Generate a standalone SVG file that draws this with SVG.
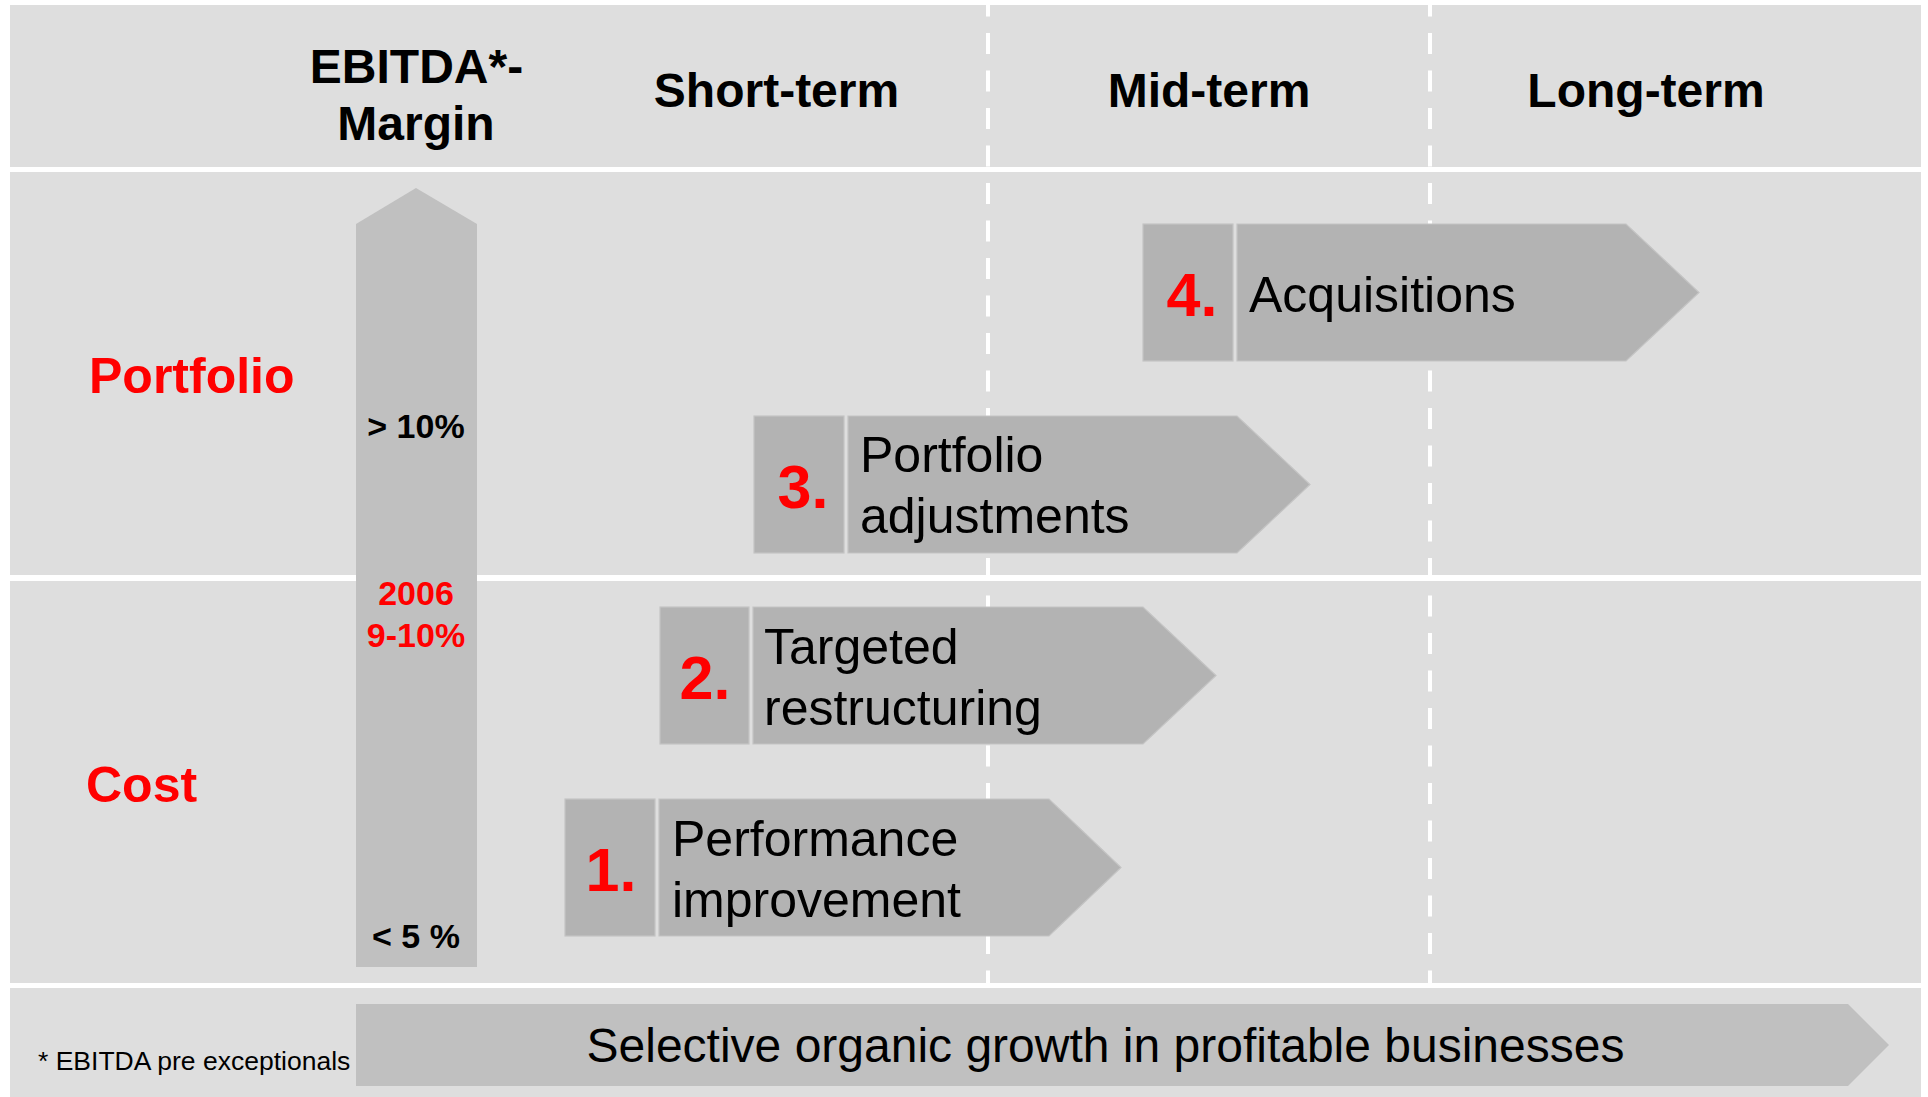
<svg xmlns="http://www.w3.org/2000/svg" width="1928" height="1097" viewBox="0 0 1928 1097">
<style>
.band{fill:#dedede}
.box{fill:#b3b3b3;stroke:#c4c4c4;stroke-width:1.2}
.bar{fill:#c0c0c0}
.dash{stroke:#ffffff;stroke-width:4;stroke-dasharray:21 16.5;fill:none}
.hdr{font-family:"Liberation Sans",Arial,sans-serif;font-weight:bold;font-size:48px;fill:#000;text-anchor:middle}
.row{font-family:"Liberation Sans",Arial,sans-serif;font-weight:bold;font-size:50px;fill:#ff0000}
.num{font-family:"Liberation Sans",Arial,sans-serif;font-weight:bold;font-size:61px;fill:#ff0000;text-anchor:middle}
.lbl{font-family:"Liberation Sans",Arial,sans-serif;font-size:50px;fill:#000}
.pct{font-family:"Liberation Sans",Arial,sans-serif;font-weight:bold;font-size:34px;text-anchor:middle}
</style>
<rect x="0" y="0" width="1928" height="1097" fill="#ffffff"/>
<g id="bands">
<rect class="band" x="10" y="5" width="1911" height="162"/>
<rect class="band" x="10" y="172" width="1911" height="403"/>
<rect class="band" x="10" y="581" width="1911" height="402"/>
<rect class="band" x="10" y="988" width="1911" height="109"/>
</g>
<g id="grid">
<line class="dash" x1="988" y1="-4.5" x2="988" y2="983"/>
<line class="dash" x1="1430" y1="-4.5" x2="1430" y2="983"/>
</g>
<g id="headers">
<text class="hdr" x="416.5" y="83">EBITDA*-</text>
<text class="hdr" x="416" y="140">Margin</text>
<text class="hdr" x="776.5" y="107">Short-term</text>
<text class="hdr" x="1209" y="107">Mid-term</text>
<text class="hdr" x="1646" y="107">Long-term</text>
</g>
<g id="row-labels">
<text class="row" x="89" y="393">Portfolio</text>
<text class="row" x="86" y="802">Cost</text>
</g>
<g id="margin-arrow">
<polygon class="bar" points="356,224 416,188 477,224 477,967 356,967"/>
<text class="pct" x="416" y="438" fill="#000">&gt; 10%</text>
<text class="pct" x="416" y="605" fill="#ff0000">2006</text>
<text class="pct" x="416" y="647" fill="#ff0000">9-10%</text>
<text class="pct" x="416" y="948" fill="#000">&lt; 5 %</text>
</g>
<g id="step1">
<rect class="box" x="565" y="799" width="90" height="137"/>
<polygon class="box" points="659,799 1049,799 1121,867.5 1049,936 659,936"/>
<text class="num" x="611" y="891">1.</text>
<text class="lbl" x="672" y="856">Performance</text>
<text class="lbl" x="672" y="917">improvement</text>
</g>
<g id="step2">
<rect class="box" x="660" y="607" width="89" height="137"/>
<polygon class="box" points="753,607 1143,607 1216,675.5 1143,744 753,744"/>
<text class="num" x="705" y="699">2.</text>
<text class="lbl" x="764" y="664">Targeted</text>
<text class="lbl" x="764" y="725">restructuring</text>
</g>
<g id="step3">
<rect class="box" x="754" y="416" width="90" height="137"/>
<polygon class="box" points="848,416 1237,416 1310,484.5 1237,553 848,553"/>
<text class="num" x="803" y="508">3.</text>
<text class="lbl" x="860" y="472">Portfolio</text>
<text class="lbl" x="860" y="533">adjustments</text>
</g>
<g id="step4">
<rect class="box" x="1143" y="224" width="90" height="137"/>
<polygon class="box" points="1237,224 1626,224 1699,292.5 1626,361 1237,361"/>
<text class="num" x="1192" y="316">4.</text>
<text class="lbl" x="1249" y="312">Acquisitions</text>
</g>
<g id="growth-arrow">
<polygon class="bar" points="356,1004 1848,1004 1889,1045 1848,1086 356,1086"/>
<text x="1105.5" y="1062" font-family="Liberation Sans, Arial, sans-serif" font-size="48" text-anchor="middle" fill="#000">Selective organic growth in profitable businesses</text>
</g>
<g id="footnote">
<text x="38" y="1070" font-family="Liberation Sans, Arial, sans-serif" font-size="26.5" fill="#000">* EBITDA pre exceptionals</text>
</g>
<g id="connectors"></g>
</svg>
